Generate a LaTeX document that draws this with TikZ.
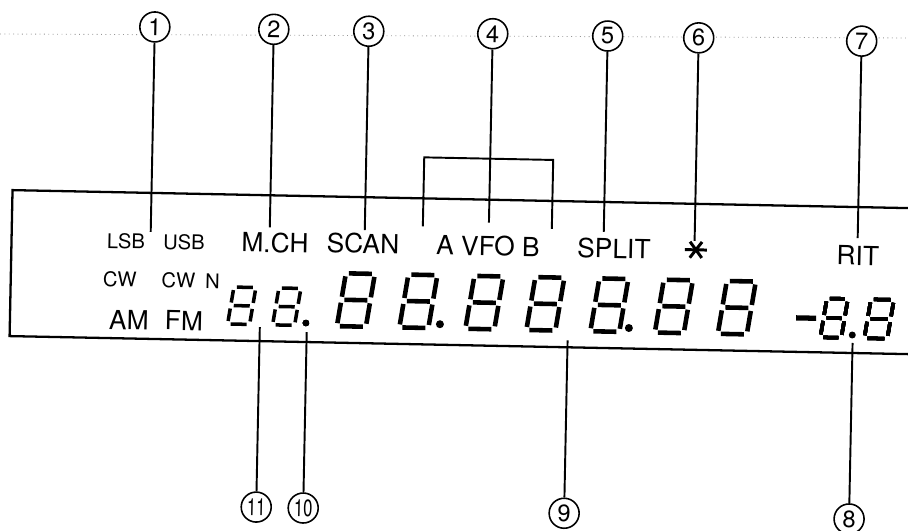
\documentclass[tikz,border=0pt]{standalone}
\usepackage{fontspec}
\setmainfont{TeX Gyre Heros}
\usepackage{graphicx}
\definecolor{foldgray}{RGB}{150,150,150}

\newcommand{\segdigit}[5]{%
  \begin{scope}[shift={(#1,#2)}, xslant=0.15, line width=#5]
    \draw ({-#3+3},{-#4}) -- ({#3-3},{-#4});
    \draw ({#3},{-#4+3}) -- (#3,-3);
    \draw (#3,3) -- ({#3},{#4-3});
    \draw ({-#3+3},#4) -- ({#3-3},#4);
    \draw (-#3,3) -- ({-#3},{#4-3});
    \draw ({-#3},{-#4+3}) -- (-#3,-3);
    \draw ({-#3+3},0) -- ({#3-3},0);
  \end{scope}}

\begin{document}
\begin{tikzpicture}[x=0.2mm, y=-0.2mm,
    num/.style={circle, draw, line width=0.9pt, fill=white, minimum size=6mm,
                inner sep=0pt, font=\fontsize{13.5}{14}\selectfont},
    lead/.style={line width=1.1pt},
    lbl/.style={anchor=base, inner sep=0pt, font=\fontsize{15}{18}\selectfont},
    tag/.style={anchor=base, inner sep=0pt, font=\fontsize{11.5}{14}\selectfont}]
  \useasboundingbox (0,0) rectangle (908,531);
  \clip (0,0) rectangle (908,531);
  \draw[foldgray, dotted, line width=0.5pt] (0,34) -- (908,38);

  \begin{scope}[rotate around={-1.15:(454,270)}, transform shape]
    \draw[line width=1.3pt] (940,199) -- (11,199) -- (11,345) -- (940,345);

    \foreach \n/\x/\e in {1/150/238, 2/269/231, 3/364/232, 4/488/222,
                          5/603/229, 6/694/236, 7/857/230} {
      \node[num] (c\n) at (\x,33) {\n};
      \coordinate (e\n) at (\x,\e);
      \draw[lead] (c\n) -- (e\n);
    }
    \coordinate (bl) at (422,227);
    \coordinate (br) at (551,227);
    \draw[lead] (bl) -- ++(0,-69) -| (br);

    \node[tag] (lsb) at (125.5,255) {LSB};
    \node[tag] (usb) at (183.5,255) {USB};
    \node[lbl] (mch) at (274.5,256) {M.CH};
    \node[lbl] (scan) at (362.5,255) {SCAN};
    \node[lbl] (vfo) at (487.5,255) {A VFO B};
    \node[lbl] (split) at (613.5,255) {SPLIT};
    \node[lbl] (rit) at (857.5,257) {RIT};
    \node[tag] (cw) at (120,293.5) {CW};
    \node[tag] (cwn) at (191,293.5) {CW\enspace N};
    \node[lbl] (am) at (130,336) {AM};
    \node[lbl] (fm) at (185,335.5) {FM};

    \coordinate (ast) at (695.5,245);
    \draw[line width=1.7pt] ([shift={(-11,0)}]ast) -- ([shift={(11,0)}]ast);
    \draw[line width=1.7pt] ([shift={(-6,-8)}]ast) -- ([shift={(6,8)}]ast);
    \draw[line width=1.7pt] ([shift={(-6,8)}]ast) -- ([shift={(6,-8)}]ast);

    \segdigit{242.5}{310}{11}{18.5}{2pt}
    \segdigit{287.5}{310}{11}{18.5}{2pt}
    \foreach \x in {356.5,419,485,546,610,674.5,737.5}
      \segdigit{\x}{302}{14.5}{26.5}{2.6pt}
    \segdigit{835}{310.5}{10.5}{19.5}{2pt}
    \segdigit{880}{310.5}{11.5}{19.5}{2pt}
    \fill (307,326) circle (3.2);
    \fill (441,324.5) circle (4);
    \fill (630,324.5) circle (4);
    \fill (853.5,327) circle (3.5);
    \draw[line width=3pt] (797,311) -- (817,311);

    \node[num] (c8) at (854,511) {8};
    \node[num] (c9) at (569,511) {9};
    \node[num] (c10) at (308,511) {\scalebox{0.7}[1]{10}};
    \node[num] (c11) at (261,511) {\scalebox{0.7}[1]{11}};
    \coordinate (e8) at (854,335);
    \coordinate (e9) at (569,338);
    \coordinate (e10) at (308,335);
    \coordinate (e11) at (261,331);
    \foreach \n in {8,9,10,11}
      \draw[lead] (c\n) -- (e\n);
  \end{scope}
\end{tikzpicture}
\end{document}
